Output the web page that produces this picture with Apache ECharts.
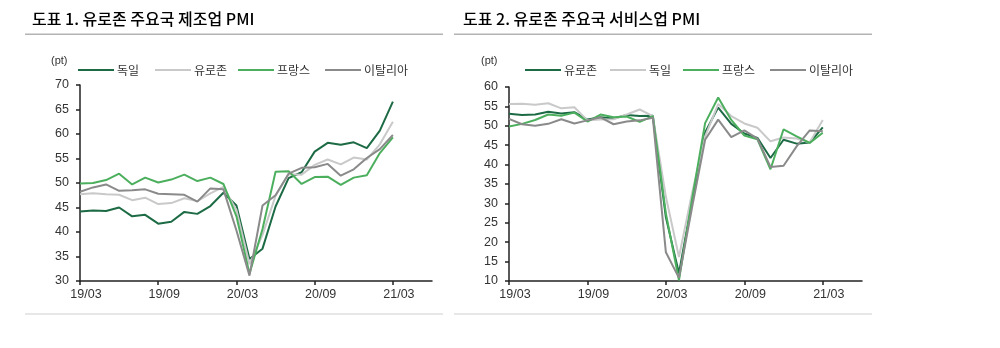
<!DOCTYPE html>
<html>
<head>
<meta charset="utf-8">
<script src="https://cdn.jsdelivr.net/npm/echarts@6/dist/echarts.min.js"></script>
<style>
  html, body { margin: 0; padding: 0; background: #fff; }
  #c1 { position: absolute; left: 0; top: 0; width: 450px; height: 348px; }
  #c2 { position: absolute; left: 450px; top: 0; width: 550px; height: 348px; }
</style>
</head>
<body>
<div id="c1"></div>
<div id="c2"></div>
<script>
// ---- data ----
const months = ['19/03','19/04','19/05','19/06','19/07','19/08','19/09','19/10','19/11','19/12',
  '20/01','20/02','20/03','20/04','20/05','20/06','20/07','20/08','20/09','20/10','20/11','20/12',
  '21/01','21/02','21/03','21/04','21/05','21/06'];

const title1 = '도표 1. 유로존 주요국 제조업 PMI';
const title2 = '도표 2. 유로존 주요국 서비스업 PMI';
const unitLabel = '(pt)';

// Manufacturing PMI
const mfgGermany  = [44.2,44.4,44.3,45.0,43.2,43.5,41.7,42.1,44.1,43.7,45.3,48.0,45.4,34.5,36.6,45.2,51.0,52.2,56.4,58.2,57.8,58.3,57.1,60.7,66.6];
const mfgEurozone = [47.7,47.9,47.7,47.6,46.5,47.0,45.7,45.9,46.9,46.3,47.9,49.2,44.5,33.4,39.4,47.4,51.8,51.7,53.7,54.8,53.8,55.2,54.8,57.9,62.5];
const mfgFrance   = [49.9,50.0,50.6,51.9,49.7,51.1,50.1,50.7,51.7,50.4,51.1,49.8,43.2,31.5,40.6,52.3,52.4,49.8,51.2,51.3,49.6,51.1,51.6,56.1,59.3];
const mfgItaly    = [48.2,49.1,49.7,48.4,48.5,48.7,47.8,47.7,47.6,46.2,48.9,48.7,40.3,31.1,45.4,47.5,51.9,53.1,53.2,53.9,51.5,52.8,55.1,56.9,59.8];

// Services PMI
const svcEurozone = [53.1,52.8,52.9,53.6,53.2,53.5,51.6,52.2,51.9,52.8,52.5,52.6,26.4,12.0,30.5,48.3,54.7,50.5,48.0,46.9,41.7,46.4,45.4,45.7,49.6];
const svcGermany  = [55.6,55.7,55.4,55.8,54.5,54.8,51.4,51.6,51.7,52.9,54.2,52.5,31.7,16.2,32.6,47.3,55.6,52.5,50.6,49.5,46.0,47.0,46.7,45.7,51.5];
const svcFrance   = [49.8,50.5,51.5,52.9,52.6,53.4,51.1,52.9,52.2,52.4,51.0,52.5,27.4,10.2,31.1,50.7,57.3,51.5,47.5,46.5,38.8,49.1,47.3,45.6,48.2];
const svcItaly    = [51.8,50.4,50.0,50.5,51.7,50.6,51.4,52.2,50.4,51.1,51.4,52.1,17.4,10.8,28.9,46.4,51.6,47.1,48.8,46.7,39.4,39.7,44.7,48.8,48.6];

const mfgNames = ['독일','유로존','프랑스','이탈리아'];
const svcNames = ['유로존','독일','프랑스','이탈리아'];

// ---- styling ----
const C_DARK = '#1d6b45', C_LIGHT = '#c9c9c9', C_GREEN = '#4caf5e', C_GRAY = '#8a8a8a';
const FONT = 'Liberation Sans, "Noto Sans CJK KR", sans-serif';
const KFONT = '"Noto Sans CJK KR", sans-serif';

function lineSeries(name, data, color) {
  return {
    name: name, type: 'line', data: data, showSymbol: false, symbol: 'none',
    lineStyle: { color: color, width: 2 }, itemStyle: { color: color },
    emphasis: { disabled: true }, animation: false
  };
}

function legendItem(name, left) {
  return {
    data: [name], left: left, top: 64, padding: 0,
    icon: 'rect', itemWidth: 36, itemHeight: 2, itemGap: 0,
    selectedMode: false,
    textStyle: { fontFamily: KFONT, fontSize: 12, color: '#333', padding: [0, 0, 0, -2] }
  };
}

function buildOption(opt) {
  return {
    animation: false,
    textStyle: { fontFamily: FONT },
    graphic: [
      { type: 'text', left: opt.titleX, top: 11,
        style: { text: opt.title, fontFamily: KFONT, fontSize: 16, fontWeight: 500, fill: '#000' } },
      { type: 'rect', shape: { x: opt.sepX0, y: 33.5, width: opt.sepX1 - opt.sepX0, height: 1.6 },
        style: { fill: '#b3b3b3' } },
      { type: 'rect', shape: { x: opt.sepX0, y: 313.5, width: opt.sepX1 - opt.sepX0, height: 1 },
        style: { fill: '#d0d0d0' } },
      { type: 'text', left: opt.unitX, top: 55,
        style: { text: unitLabel, fontFamily: FONT, fontSize: 11, fill: '#333' } }
    ],
    legend: opt.legendLefts.map((l, i) => legendItem(opt.names[i], l)),
    grid: { left: opt.gridLeft, top: opt.gridTop, width: opt.gridWidth, height: opt.gridHeight },
    xAxis: {
      type: 'category', data: months, boundaryGap: false,
      axisLine: { lineStyle: { color: '#222', width: 1.5 } },
      axisTick: { show: true, interval: 5, length: 4, lineStyle: { color: '#222', width: 1.5 } },
      axisLabel: { interval: 5, margin: 7, fontSize: 12.5, color: '#333', fontFamily: FONT,
                   padding: [0, 0, 0, 12] },
      splitLine: { show: false }
    },
    yAxis: {
      type: 'value', min: opt.yMin, max: opt.yMax, interval: 5,
      axisLine: { show: true, lineStyle: { color: '#222', width: 1.5 } },
      axisTick: { show: true, length: 4, lineStyle: { color: '#222', width: 1.5 } },
      axisLabel: { margin: 11, fontSize: 12.5, color: '#333', fontFamily: FONT },
      splitLine: { show: false }
    },
    series: opt.series
  };
}

const chart1 = echarts.init(document.getElementById('c1'), null, { renderer: 'canvas' });
chart1.setOption(buildOption({
  title: title1, titleX: 32, sepX0: 25, sepX1: 443, unitX: 51,
  names: mfgNames, legendLefts: [78, 155, 238, 325],
  gridLeft: 80, gridTop: 85, gridWidth: 352, gridHeight: 196,
  yMin: 30, yMax: 70,
  series: [
    lineSeries(mfgNames[0], mfgGermany, C_DARK),
    lineSeries(mfgNames[1], mfgEurozone, C_LIGHT),
    lineSeries(mfgNames[2], mfgFrance, C_GREEN),
    lineSeries(mfgNames[3], mfgItaly, C_GRAY)
  ]
}));

const chart2 = echarts.init(document.getElementById('c2'), null, { renderer: 'canvas' });
chart2.setOption(buildOption({
  title: title2, titleX: 13, sepX0: 4, sepX1: 422, unitX: 31,
  names: svcNames, legendLefts: [75, 160, 233, 320],
  gridLeft: 59, gridTop: 87, gridWidth: 353, gridHeight: 194,
  yMin: 10, yMax: 60,
  series: [
    lineSeries(svcNames[0], svcEurozone, C_DARK),
    lineSeries(svcNames[1], svcGermany, C_LIGHT),
    lineSeries(svcNames[2], svcFrance, C_GREEN),
    lineSeries(svcNames[3], svcItaly, C_GRAY)
  ]
}));
</script>
</body>
</html>
